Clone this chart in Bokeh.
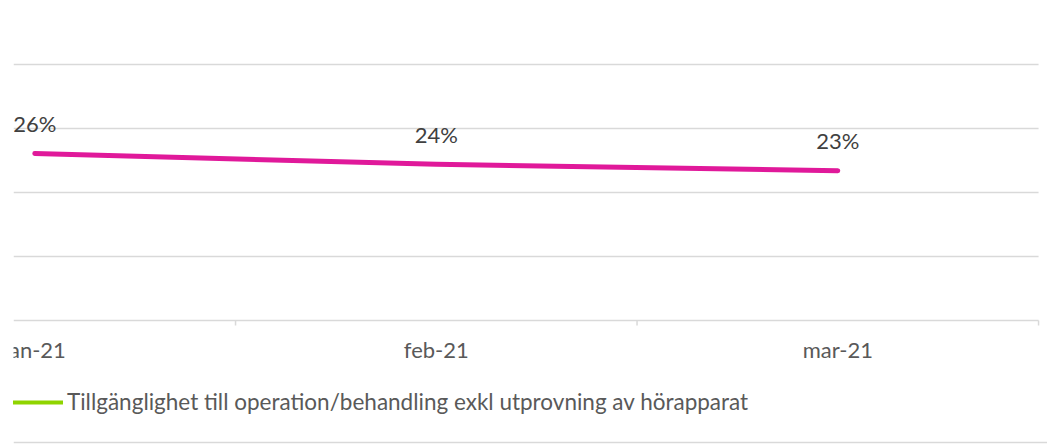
import math
from bokeh.plotting import figure
from bokeh.core.properties import value
from bokeh.models import (Range1d, LabelSet, ColumnDataSource,
                          Legend, LegendItem, Span)
from bokeh.embed import file_html
from bokeh.resources import INLINE

months = ["jan-21", "feb-21", "mar-21"]
values = [0.261, 0.244, 0.234]
value_labels = ["26%", "24%", "23%"]
series_name = "Tillgänglighet till operation/behandling exkl utprovning av hörapparat"
grid_values = [0.0, 0.1, 0.2, 0.3, 0.4]

X_START = 0.447
xs = [i + 0.5 for i in range(len(months))]
bounds = [i + 1 for i in range(len(months))]
src = ColumnDataSource(dict(x=xs, y=values, lab=value_labels))
axis_src = ColumnDataSource(dict(x=xs, y=[0.0] * len(months), lab=months))
tick_src = ColumnDataSource(dict(x=bounds, y=[0.0] * len(bounds)))
grid_src = ColumnDataSource(dict(x0=[X_START] * len(grid_values),
                                 x1=[len(months)] * len(grid_values),
                                 y=grid_values))

FONT = value("Lato")
GRID = "#d9d9d9"
p = figure(width=1047, height=444, output_backend="svg", toolbar_location=None,
           x_range=Range1d(X_START, 3.0223), y_range=Range1d(-0.19375, 0.5),
           x_axis_location=None, y_axis_location=None,
           min_border_left=13, min_border_right=0, min_border_top=0,
           min_border_bottom=0)
p.outline_line_color = None
p.background_fill_color = "white"
p.border_fill_color = "white"
p.grid.visible = False

# horizontal gridlines and zero (axis) line
p.segment(x0="x0", y0="y", x1="x1", y1="y", source=grid_src,
          line_color=GRID, line_width=1.5)
# category boundary tick marks below the zero line
p.ray(x="x", y="y", source=tick_src, length=5, length_units="screen",
      angle=-math.pi / 2, line_color=GRID, line_width=1.5)
# bottom border line
p.add_layout(Span(location=-0.1905, dimension="width", line_color=GRID,
                  line_width=1.5))

# category labels
cat_labels = LabelSet(x="x", y="y", text="lab", source=axis_src, y_offset=-29,
                      text_align="center", text_baseline="middle",
                      text_font=FONT, text_font_size=value("22px"),
                      text_color="#595959")
p.add_layout(cat_labels)

p.line("x", "y", source=src, line_color="#e0199a", line_width=5,
       line_cap="round", line_join="round")
legend_r = p.line("x", "y", source=src, line_color="#8fd400", line_width=4,
                  line_cap="round")
legend_r.visible = False

labels = LabelSet(x="x", y="y", text="lab", source=src, y_offset=30,
                  text_align="center", text_baseline="middle",
                  text_font=FONT, text_font_size=value("22px"),
                  text_color="#404040")
p.add_layout(labels)

legend = Legend(items=[LegendItem(label=series_name, renderers=[legend_r])],
                orientation="horizontal", location=(0, 29),
                border_line_color=None, background_fill_alpha=0,
                glyph_width=50, glyph_height=20, label_standoff=4,
                padding=0, margin=0, spacing=0,
                label_text_font="Lato", label_text_font_size="22.5px",
                label_text_color="#595959")
p.add_layout(legend)

open("out.html", "w").write(file_html(p, INLINE))
